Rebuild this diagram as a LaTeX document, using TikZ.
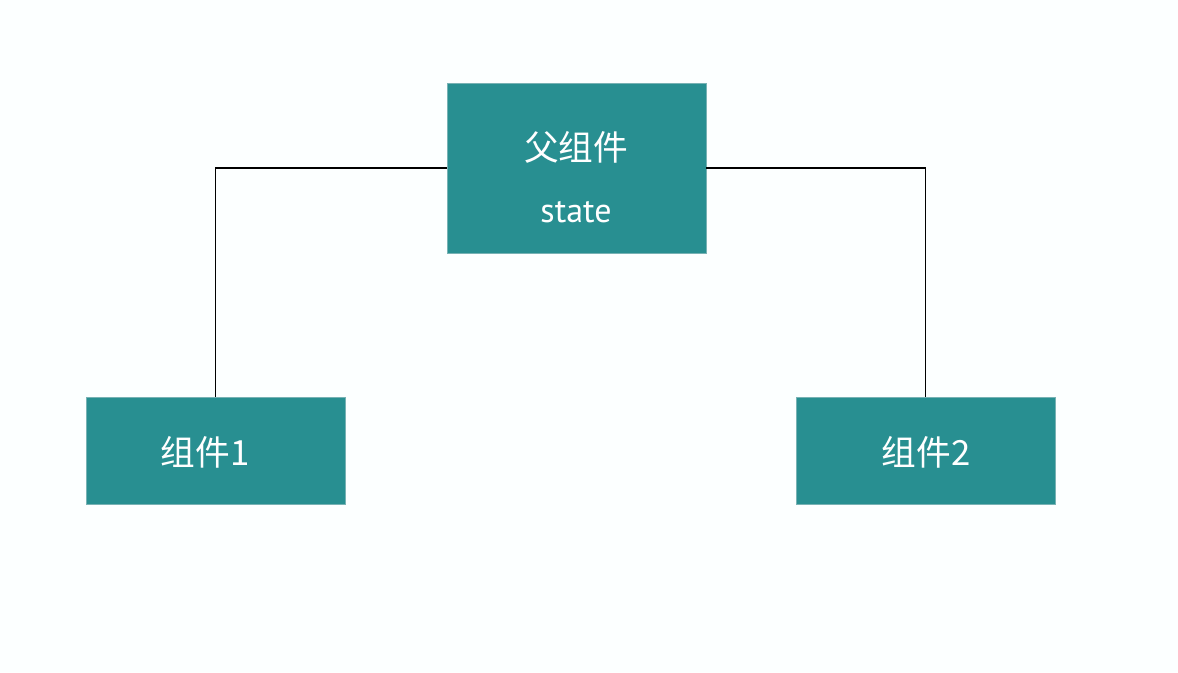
\documentclass[tikz,border=0pt]{standalone}
\usepackage{fontspec}
\newfontfamily\cjk{Noto Sans CJK SC}
\newfontfamily\latinsf{PT Sans}
\definecolor{teal}{RGB}{40,143,145}
\definecolor{tealedge}{RGB}{120,178,180}
\definecolor{bg}{RGB}{252,255,255}
\begin{document}
\begin{tikzpicture}[x=0.75pt,y=-0.75pt,
  compbox/.style={rectangle, fill=teal, draw=tealedge, line width=0.5pt,
    inner sep=0pt, minimum width=194.25pt},
  cjktext/.style={text=white, font=\cjk\fontsize{26}{30}\selectfont, inner sep=0pt},
  wire/.style={draw=black, line width=1pt}]
  % canvas
  \path[fill=bg] (0,0) rectangle (1178,672);
  \useasboundingbox (0,0) rectangle (1178,672);

  % boxes
  \node[compbox, minimum height=127.5pt] (parent) at (576.5,168) {};
  \node[compbox, minimum height=80.25pt] (child1) at (215.5,450.5) {};
  \node[compbox, minimum height=80.25pt] (child2) at (925.5,450.5) {};

  % labels
  \node[cjktext] (ptitle) at (576,147) {父组件};
  \node[text=white, font=\latinsf\fontsize{25.5}{30}\selectfont, inner sep=0pt] (pstate) at (576,212) {state};
  \node[cjktext] (c1label) at (205,452) {组件1};
  \node[cjktext] (c2label) at (926,452) {组件2};

  % connectors
  \draw[wire] (parent.west) -| (child1.north);
  \draw[wire] (parent.east) -| (child2.north);
\end{tikzpicture}
\end{document}
